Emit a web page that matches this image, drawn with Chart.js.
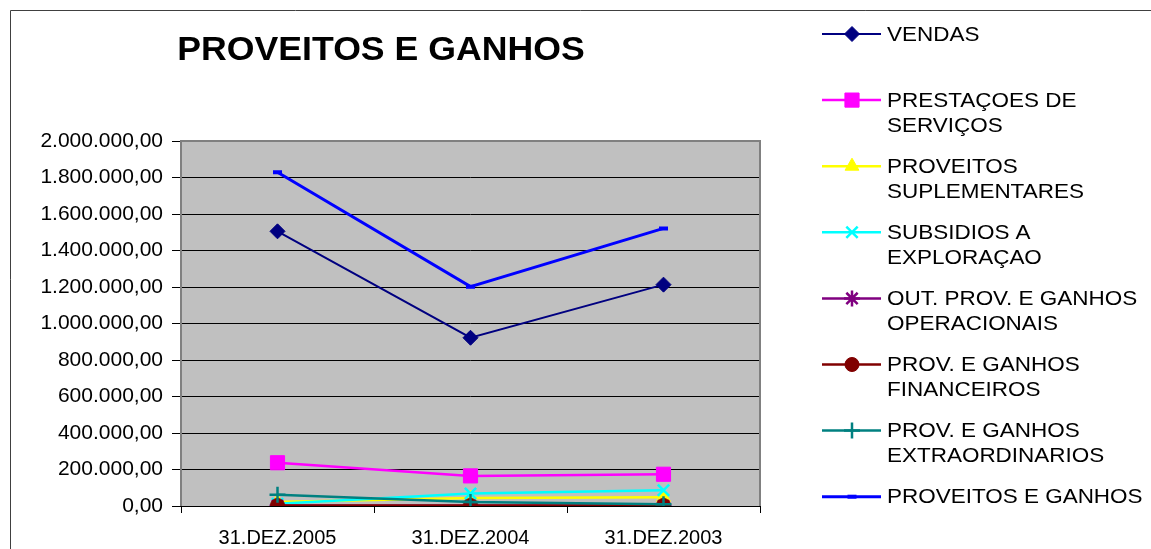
<!DOCTYPE html>
<html>
<head>
<meta charset="utf-8">
<script src="https://cdn.jsdelivr.net/npm/chart.js@4.4.0/dist/chart.umd.min.js"></script>
<style>
	html, body { margin: 0; padding: 0; background: #fff; }
	#chart { display: block; }
</style>
</head>
<body>
<canvas id="chart" width="1151" height="549"></canvas>
<script>
// data
const categories = ['31.DEZ.2005', '31.DEZ.2004', '31.DEZ.2003'];
const seriesNames = [
	['VENDAS'],
	['PRESTAÇOES DE', 'SERVIÇOS'],
	['PROVEITOS', 'SUPLEMENTARES'],
	['SUBSIDIOS A', 'EXPLORAÇAO'],
	['OUT. PROV. E GANHOS', 'OPERACIONAIS'],
	['PROV. E GANHOS', 'FINANCEIROS'],
	['PROV. E GANHOS', 'EXTRAORDINARIOS'],
	['PROVEITOS E GANHOS'],
];
const vendas = [1505000, 922000, 1213000];
const prestacoes = [237000, 165000, 174000];
const suplementares = [22000, 44000, 48000];
const subsidios = [12000, 68000, 86000];
const outProveitos = [1000, 1000, 1000];
const financeiros = [3000, 3000, 3000];
const extraordinarios = [61000, 22000, 9000];
const totalProveitos = [1829000, 1202000, 1521000];
const yTicks = [0, 200000, 400000, 600000, 800000, 1000000, 1200000, 1400000, 1600000, 1800000, 2000000];

const seriesData = [vendas, prestacoes, suplementares, subsidios, outProveitos, financeiros, extraordinarios, totalProveitos];
const styles = [
	{ color: '#000080', fill: '#000080', point: 'rectRot', r: 7.5, line: 2 },
	{ color: '#ff00ff', fill: '#ff00ff', point: 'rect', r: 10, line: 2.5 },
	{ color: '#ffff00', fill: '#ffff00', point: 'triangle', r: 8, line: 2.5 },
	{ color: '#00ffff', fill: '#00ffff', point: 'crossRot', r: 8, line: 2.5 },
	{ color: '#800080', fill: '#800080', point: 'star', r: 8, line: 2.5 },
	{ color: '#800000', fill: '#800000', point: 'circle', r: 7, line: 2.5 },
	{ color: '#008080', fill: '#008080', point: 'cross', r: 8, line: 2.5 },
	{ color: '#0000ff', fill: '#0000ff', point: 'line', r: 4.5, line: 3 },
];

const FONT = 'Arial, "Liberation Sans", sans-serif';

function fmt(v) {
	return Math.round(v).toString().replace(/\B(?=(\d{3})+(?!\d))/g, '.') + ',00';
}

// the source text is a bit wider than plain Arial
function wideText(ctx, t, x, y, sx) {
	ctx.save();
	ctx.translate(x, y);
	ctx.scale(sx, 1);
	ctx.fillText(t, 0, 0);
	ctx.restore();
}

const datasets = seriesData.map((d, i) => ({
	label: seriesNames[i].join(' '),
	data: d,
	borderColor: styles[i].color,
	backgroundColor: styles[i].fill,
	borderWidth: styles[i].line,
	pointStyle: styles[i].point,
	pointRadius: styles[i].r,
	pointHoverRadius: styles[i].r,
	pointBorderWidth: styles[i].point === 'line' ? 4 : (['crossRot', 'star', 'cross'].includes(styles[i].point) ? 2.5 : 1),
	pointBorderColor: styles[i].color,
	pointBackgroundColor: styles[i].fill,
	tension: 0,
	order: seriesData.length - i,
}));

const frame = {
	id: 'frame',
	beforeDraw(chart) {
		const { ctx, chartArea: a } = chart;
		ctx.save();
		ctx.fillStyle = '#fff';
		ctx.fillRect(0, 0, chart.width, chart.height);
		ctx.strokeStyle = '#404040';
		ctx.lineWidth = 1;
		ctx.beginPath();
		ctx.moveTo(10.5, chart.height);
		ctx.lineTo(10.5, 10.5);
		ctx.lineTo(chart.width, 10.5);
		ctx.stroke();
		ctx.fillStyle = '#c0c0c0';
		ctx.fillRect(a.left, a.top, a.right - a.left, a.bottom - a.top);
		ctx.restore();
	},
	beforeDatasetsDraw(chart) {
		const { ctx, chartArea: a } = chart;
		ctx.save();
		ctx.strokeStyle = '#808080';
		ctx.lineWidth = 2;
		ctx.beginPath();
		ctx.moveTo(a.left, a.bottom);
		ctx.lineTo(a.left, a.top);
		ctx.lineTo(a.right, a.top);
		ctx.lineTo(a.right, a.bottom);
		ctx.stroke();
		ctx.strokeStyle = '#000';
		ctx.lineWidth = 1;
		ctx.beginPath();
		ctx.moveTo(a.left, a.bottom + 0.5);
		ctx.lineTo(a.right, a.bottom + 0.5);
		ctx.stroke();
		ctx.restore();
	},
	afterDraw(chart) {
		const ctx = chart.ctx;
		ctx.save();
		ctx.fillStyle = '#000';
		ctx.font = 'bold 33px ' + FONT;
		ctx.textAlign = 'center';
		ctx.textBaseline = 'middle';
		wideText(ctx, 'PROVEITOS E GANHOS', 381, 51, 1.08);

		// legend on the right
		ctx.font = '21px ' + FONT;
		ctx.textAlign = 'left';
		chart.data.datasets.forEach((ds, i) => {
			const y = 34 + i * 66.1;
			ctx.strokeStyle = ds.borderColor;
			ctx.lineWidth = ds.borderWidth;
			ctx.beginPath();
			ctx.moveTo(822, y);
			ctx.lineTo(881, y);
			ctx.stroke();
			ctx.fillStyle = ds.pointBackgroundColor;
			ctx.strokeStyle = ds.pointBorderColor;
			ctx.lineWidth = ds.pointBorderWidth;
			Chart.helpers.drawPoint(ctx, { pointStyle: ds.pointStyle, radius: ds.pointRadius, borderWidth: ds.pointBorderWidth, rotation: 0 }, 852, y);
			ctx.fillStyle = '#000';
			seriesNames[i].forEach((t, k) => wideText(ctx, t, 887, y + 1 + k * 25, 1.07));
		});
		ctx.restore();
	},
};

new Chart(document.getElementById('chart'), {
	type: 'line',
	data: { labels: categories, datasets },
	options: {
		responsive: false,
		animation: false,
		devicePixelRatio: 1,
		layout: { padding: { top: 141, right: 391, left: 0, bottom: 0 } },
		plugins: {
			legend: { display: false },
			title: { display: false },
			tooltip: { enabled: false },
		},
		scales: {
			x: {
				offset: true,
				afterFit: (s) => { s.height = 43; },
				grid: { offset: true, drawOnChartArea: false, drawTicks: true, tickLength: 7, color: '#000', tickColor: '#000' },
				border: { display: false },
				ticks: { color: '#000', padding: 13, font: { family: FONT, size: 20 } },
			},
			y: {
				min: 0,
				max: 2000000,
				afterFit: (s) => { s.width = 181; },
				afterBuildTicks: (s) => { s.ticks = yTicks.map((v) => ({ value: v })); },
				grid: { color: '#000', tickColor: '#000', tickLength: 9, lineWidth: 1 },
				border: { display: false },
				ticks: {
					color: '#000',
					padding: 9,
					font: { family: FONT, size: 21 },
					callback: (v) => fmt(v),
				},
			},
		},
	},
	plugins: [frame],
});
</script>
</body>
</html>
